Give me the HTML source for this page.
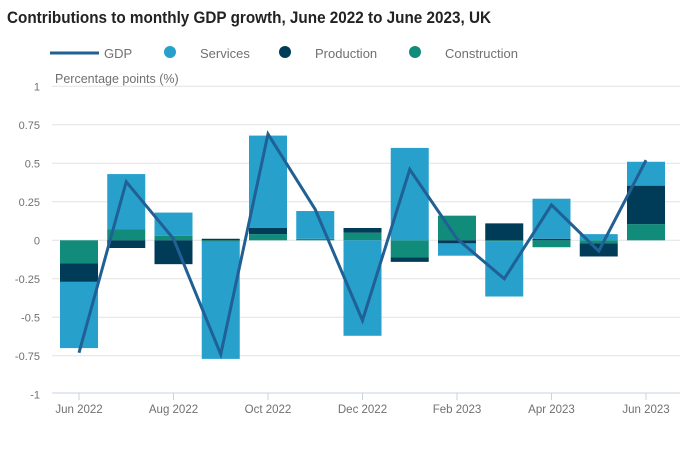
<!DOCTYPE html>
<html><head><meta charset="utf-8"><style>
body{margin:0;background:#fff;font-family:"Liberation Sans",sans-serif;}
svg text{font-family:"Liberation Sans",sans-serif;}
</style></head><body>
<svg id="chart" width="689" height="444" xmlns="http://www.w3.org/2000/svg">
<text x="7" y="23" font-size="17" font-weight="bold" fill="#222" textLength="484" lengthAdjust="spacingAndGlyphs">Contributions to monthly GDP growth, June 2022 to June 2023, UK</text>
<g>
<g><line x1="50" y1="53" x2="99" y2="53" stroke="#206095" stroke-width="3"/><text x="104" y="58" font-size="13" fill="#707070">GDP</text></g>
<g><circle cx="170" cy="52" r="6" fill="#27a0cc"/><text x="200" y="58" font-size="13" fill="#707070">Services</text></g>
<g><circle cx="285" cy="52" r="6" fill="#003c57"/><text x="315" y="58" font-size="13" fill="#707070">Production</text></g>
<g><circle cx="415" cy="52" r="6" fill="#118c7b"/><text x="445" y="58" font-size="13" fill="#707070">Construction</text></g>
</g>
<text x="55" y="83" font-size="12.5" fill="#707070">Percentage points (%)</text>
<g id="grid"></g><g id="bars"></g><g id="line"></g><g id="xaxis"></g>
</svg>
<script>
const categories=["Jun 2022","Jul 2022","Aug 2022","Sep 2022","Oct 2022","Nov 2022","Dec 2022","Jan 2023","Feb 2023","Mar 2023","Apr 2023","May 2023","Jun 2023"];
const services=[-0.43,0.36,0.15,-0.76,0.6,0.18,-0.62,0.6,-0.08,-0.36,0.26,0.04,0.155];
const production=[-0.12,-0.05,-0.155,0.01,0.04,0.0,0.03,-0.03,-0.02,0.11,0.01,-0.085,0.25];
const construction=[-0.15,0.07,0.03,-0.01,0.04,0.01,0.05,-0.11,0.16,-0.005,-0.045,-0.02,0.105];
const gdp=[-0.73,0.38,0.01,-0.74,0.69,0.2,-0.52,0.46,0.01,-0.25,0.23,-0.07,0.52];
const yTicks=[1,0.75,0.5,0.25,0,-0.25,-0.5,-0.75,-1];
const yTickLabels=["1","0.75","0.5","0.25","0","-0.25","-0.5","-0.75","-1"];
const xTickIdx=[0,2,4,6,8,10,12];
const NS="http://www.w3.org/2000/svg";
const y=v=>240.3-v*154;
const x=i=>79+i*47.25;
function mk(tag,attrs,parent){const e=document.createElementNS(NS,tag);for(const k in attrs)e.setAttribute(k,attrs[k]);parent.appendChild(e);return e;}
const grid=document.getElementById('grid');
yTicks.forEach((t,i)=>{
  if(t!==-1){const l=mk('line',{x1:52,x2:680,y1:y(t),y2:y(t),stroke:'#e2e2e2','stroke-width':1},grid);
  
  }
  const tx=mk('text',{x:40,y:y(t)+4,'font-size':11,fill:'#707070','text-anchor':'end'},grid);
  tx.textContent=yTickLabels[i];
  
  
});
const bars=document.getElementById('bars');
const series=[[construction,'#118c7b','construction'],[production,'#003c57','production'],[services,'#27a0cc','services']];
categories.forEach((c,i)=>{
  let pos=0,neg=0;
  series.forEach(([arr,col,nm])=>{
    const v=arr[i];let y0,y1;
    if(v>=0){y0=pos;y1=pos+v;pos=y1;}else{y0=neg;y1=neg+v;neg=y1;}
    const r=mk('rect',{x:x(i)-19,width:38,y:Math.min(y(y0),y(y1)),height:Math.abs(y(y0)-y(y1)),fill:col},bars);
    
    
  });
});
const pl=mk('polyline',{points:gdp.map((v,i)=>x(i)+','+y(v)).join(' '),fill:'none',stroke:'#206095','stroke-width':3,'stroke-linejoin':'miter'},document.getElementById('line'));


const xa=document.getElementById('xaxis');
const al=mk('line',{x1:52,x2:680,y1:393,y2:393,stroke:'#c8d2e0','stroke-width':1},xa);


xTickIdx.forEach(i=>{
  const tk=mk('line',{x1:x(i),x2:x(i),y1:393,y2:400,stroke:'#c8d2e0'},xa);
  
  
  const t=mk('text',{x:x(i),y:413,'font-size':11.5,fill:'#707070','text-anchor':'middle'},xa);
  t.textContent=categories[i];
  
  
});
</script>
</body></html>
